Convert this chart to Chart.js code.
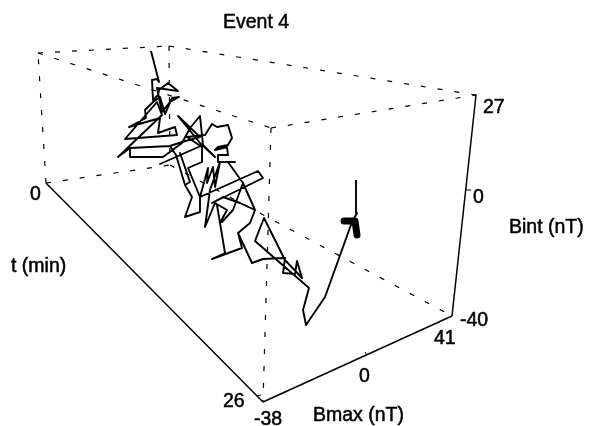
<!DOCTYPE html>
<html>
<head>
<meta charset="utf-8">
<title>Event 4</title>
<script src="https://cdn.jsdelivr.net/npm/chart.js@4/dist/chart.umd.min.js"></script>
<style>
  html, body { margin: 0; padding: 0; background: #fff; }
  canvas { display: block; }
</style>
</head>
<body>
<canvas id="eventChart" width="589" height="426"></canvas>
<script>
var traceX = [151,159,157,152,153,158,159,168,178,157,
  162,170,179,172,165,160,153,145,146,129,
  160,158,175,177,125,157,162,118,130,170,
  182,200,178,200,215,203,160,203,200,190,
  182,163,130,130,170,176,185,190,180,190,
  185,192,185,200,200,193,188,202,202,187,
  205,212,217,228,232,228,218,215,227,228,
  218,218,235,228,243,233,222,233,243,255,
  240,223,212,263,258,200,208,207,213,215,
  220,210,205,215,227,220,217,225,212,242,
  238,250,255,250,238,252,263,285,283,295,
  297,302,285,264,255,309,303,306,325,352,
  357,356];
var traceY = [51,82,79,80,100,95,90,83,91,88,
  112,102,97,98,114,97,102,110,118,127,
  118,133,127,135,139,102,115,157,148,146,
  142,137,116,143,157,145,164,145,116,128,
  143,157,157,148,146,155,185,182,153,182,
  185,197,217,212,197,180,168,162,147,137,
  135,124,127,125,138,145,147,150,147,155,
  155,162,162,162,183,210,222,210,183,210,
  203,197,203,178,171,197,168,183,167,187,
  162,190,227,203,210,223,205,253,259,248,
  233,223,210,223,233,263,259,258,273,274,
  261,278,260,218,241,288,310,325,297,222,
  213,180];

// short thick stretch of the trace
var blobX = [344,355,357];
var blobY = [221,221,235];

// box corners: A/B/C/D on the solid edges, the rest hidden behind the data
var corners = {
  A: [46,183], B: [263,402], C: [452,316], D: [476,95],
  E: [38,53], F: [169,46], G: [271,128], H: [170,165]
};
var solidEdges = [['A','B'], ['B','C'], ['C','D']];
var dashedEdges = [['A','E'], ['A','H'], ['E','F'], ['E','G'], ['F','H'], ['F','D'], ['G','D'], ['G','B'], ['H','C']];

// little tick marks on the solid axes
var tickMarks = [
  [[46,183],[49,187]],
  [[257,396],[261,395]],
  [[365,352],[367,355]],
  [[465,190],[471,190]],
  [[473,95],[477,95]]
];

var labels = ['Event 4', '0', 't (min)', '26', '-38', 'Bmax (nT)', '0', '41', '-40', '0', '27', 'Bint (nT)'];
var labelX = [223, 30, 11, 223, 254, 313, 359, 434, 460, 473, 483, 509];
var labelY = [28, 200, 272, 407, 425, 421, 382, 344, 326, 203, 113, 233];

function zip(xs, ys) {
  return xs.map(function (x, i) { return { x: x, y: ys[i] }; });
}

function edgeData(edge) {
  return edge.map(function (name) {
    return { x: corners[name][0], y: corners[name][1] };
  });
}

function lineSet(data, width, dash, cap) {
  return {
    data: data,
    showLine: true,
    borderColor: '#000',
    borderWidth: width,
    borderDash: dash || [],
    borderCapStyle: cap || 'butt',
    borderJoinStyle: 'round',
    pointRadius: 0,
    tension: 0
  };
}

var datasets = [];
dashedEdges.forEach(function (edge) {
  datasets.push(lineSet(edgeData(edge), 1.2, [5, 12]));
});
solidEdges.forEach(function (edge) {
  datasets.push(lineSet(edgeData(edge), 1.5));
});
tickMarks.forEach(function (tick) {
  datasets.push(lineSet(tick.map(function (p) { return { x: p[0], y: p[1] }; }), 1));
});
datasets.push(lineSet(zip(traceX, traceY), 1.9));
datasets.push(lineSet(zip(blobX, blobY), 7, [], 'round'));

// tick labels and axis names sit at fixed spots around the box
var textLabels = {
  id: 'textLabels',
  afterDatasetsDraw: function (chart) {
    var ctx = chart.ctx;
    ctx.save();
    ctx.fillStyle = '#000';
    ctx.strokeStyle = '#000';
    ctx.lineWidth = 0.5;
    ctx.textBaseline = 'alphabetic';
    ctx.textAlign = 'left';
    ctx.font = '19.5px "Liberation Sans"';
    labels.forEach(function (text, i) {
      var x = chart.scales.x.getPixelForValue(labelX[i]);
      var y = chart.scales.y.getPixelForValue(labelY[i]);
      ctx.fillText(text, x, y);
      ctx.strokeText(text, x, y);
    });
    ctx.restore();
  }
};

new Chart(document.getElementById('eventChart'), {
  type: 'scatter',
  data: { datasets: datasets },
  plugins: [textLabels],
  options: {
    responsive: false,
    animation: false,
    layout: { padding: 0 },
    plugins: {
      legend: { display: false },
      tooltip: { enabled: false },
      title: { display: false }
    },
    scales: {
      x: { type: 'linear', display: false, min: 0, max: 589 },
      y: { type: 'linear', display: false, min: 0, max: 426, reverse: true }
    }
  }
});
</script>
</body>
</html>
